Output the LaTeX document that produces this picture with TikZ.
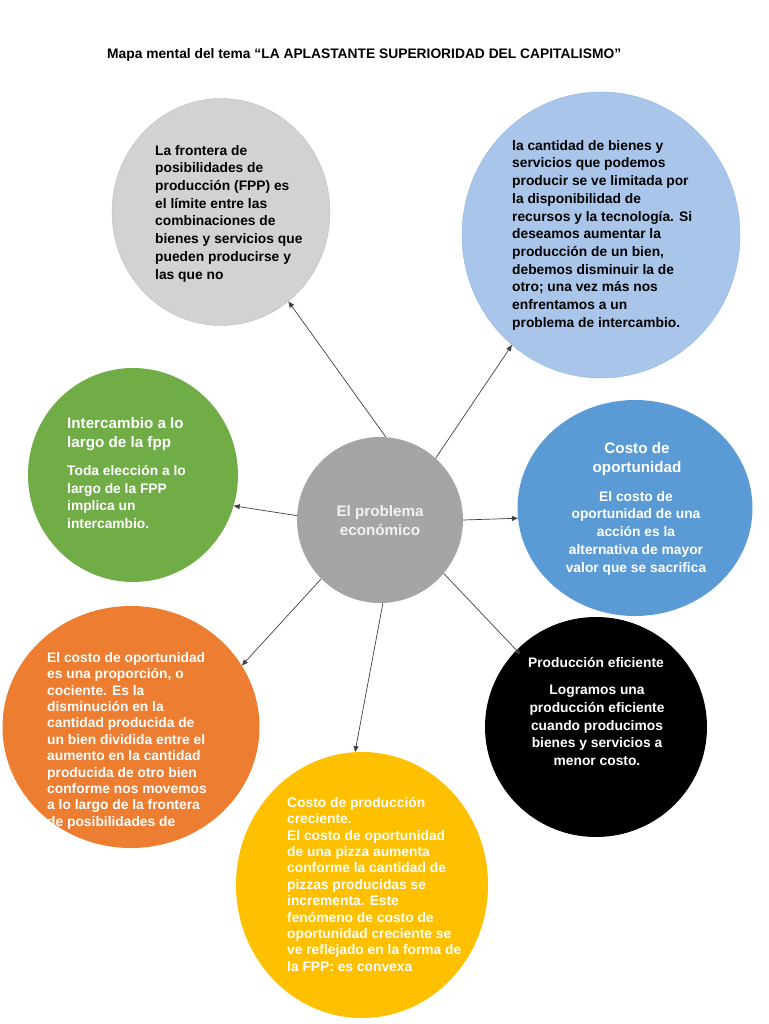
\documentclass[tikz,border=0pt]{standalone}
\usepackage{fontspec}
\setmainfont{Liberation Sans}
\usetikzlibrary{positioning, arrows.meta, shapes.geometric}
\definecolor{fppgray}{HTML}{D2D2D2}
\definecolor{fppedge}{HTML}{BDBDBD}
\definecolor{paleblue}{HTML}{A9C6EA}
\definecolor{paleedge}{HTML}{8CB2E2}
\definecolor{leafgreen}{HTML}{70AD47}
\definecolor{officeblue}{HTML}{5B9BD5}
\definecolor{coregray}{HTML}{A5A5A5}
\definecolor{officeorange}{HTML}{ED7D31}
\definecolor{officegold}{HTML}{FFC000}
\definecolor{linkgray}{HTML}{404040}

\begin{document}
\begin{tikzpicture}[x=1pt, y=-1pt,
    every node/.style={font=\bfseries\fontsize{13.8}{17.7}\selectfont, inner sep=0pt},
    bubble/.style={ellipse, draw=none, inner sep=0pt},
    leftbox/.style={anchor=north west, align=left},
    midbox/.style={anchor=north, align=center},
    headfont/.style={font=\bfseries\fontsize{15.2}{19.5}\selectfont},
    tightfont/.style={font=\bfseries\fontsize{13.8}{16.4}\selectfont},
    link/.style={->, draw=linkgray, line width=0.7pt},
    >={Triangle[length=6pt,width=5pt]},
  ]
  \useasboundingbox (0,0) rectangle (768,1024);

  % title
  \node[anchor=west] (title) at (107,55) {Mapa mental del tema ``LA APLASTANTE SUPERIORIDAD DEL CAPITALISMO''};

  % bubbles
  \node[bubble, fill=fppgray, draw=fppedge, minimum width=218, minimum height=227] (fpp) at (221,212) {};
  \node[bubble, fill=paleblue, draw=paleedge, minimum width=278, minimum height=286] (limits) at (601,235) {};
  \node[bubble, fill=leafgreen, minimum width=210, minimum height=214] (trade) at (133,475) {};
  \node[bubble, fill=coregray, minimum width=166, minimum height=166] (core) at (380,520) {};
  \node[bubble, fill=officeblue, minimum width=235, minimum height=216] (oppcost) at (635,508) {};
  \node[bubble, fill=officeorange, minimum width=257, minimum height=242] (ratio) at (131,727) {};
  \node[bubble, fill=black, minimum width=222, minimum height=220] (eff) at (596,727) {};
  \node[bubble, fill=officegold, minimum width=252, minimum height=266] (rising) at (362,885) {};

  % texts
  \node[leftbox] (fpptxt) at (155,145) {La frontera de\\posibilidades de\\producción (FPP) es\\el límite entre las\\combinaciones de\\bienes y servicios que\\pueden producirse y\\las que no};
  \node[leftbox] (limitstxt) at (512,140) {la cantidad de bienes y\\servicios que podemos\\producir se ve limitada por\\la disponibilidad de\\recursos y la tecnología. Si\\deseamos aumentar la\\producción de un bien,\\debemos disminuir la de\\otro; una vez más nos\\enfrentamos a un\\problema de intercambio.};
  \node[leftbox, headfont, text=white] (tradehead) at (67,417) {Intercambio a lo\\largo de la fpp};
  \node[leftbox, text=white] (tradetxt) at (67,465) {Toda elección a lo\\largo de la FPP\\implica un\\intercambio.};
  \node[midbox, headfont, text=white!95!black] (coretxt) at (380,505) {El problema\\económico};
  \node[midbox, headfont, text=white] (opphead) at (637,442) {Costo de\\oportunidad};
  \node[midbox, text=white] (opptxt) at (636,491) {El costo de\\oportunidad de una\\acción es la\\alternativa de mayor\\valor que se sacrifica};
  \node[leftbox, tightfont, text=white] (ratiotxt) at (47,652) {El costo de oportunidad\\es una proporción, o\\cociente. Es la\\disminución en la\\cantidad producida de\\un bien dividida entre el\\aumento en la cantidad\\producida de otro bien\\conforme nos movemos\\a lo largo de la frontera\\de posibilidades de};
  \node[midbox, text=white] (effhead) at (596,657) {Producción eficiente};
  \node[midbox, text=white] (efftxt) at (597,685) {Logramos una\\producción eficiente\\cuando producimos\\bienes y servicios a\\menor costo.};
  \node[leftbox, tightfont, text=white] (risingtxt) at (287,797) {Costo de producción\\creciente.\\El costo de oportunidad\\de una pizza aumenta\\conforme la cantidad de\\pizzas producidas se\\incrementa. Este\\fenómeno de costo de\\oportunidad creciente se\\ve reflejado en la forma de\\la FPP: es convexa};

  % connectors
  \draw[link] (core.86) -- (fpp.-53);
  \draw[link] (core.48) -- (limits.-129);
  \draw[link] (core.177) -- (trade.-17);
  \draw[link] (core.0) -- (oppcost.185);
  \draw[link] (core.-135) -- (ratio.29);
  \draw[link] (core.-88) -- (rising.93);
  \draw[link, shorten >=-6pt] (core.-40) -- (eff.136);
\end{tikzpicture}
\end{document}
